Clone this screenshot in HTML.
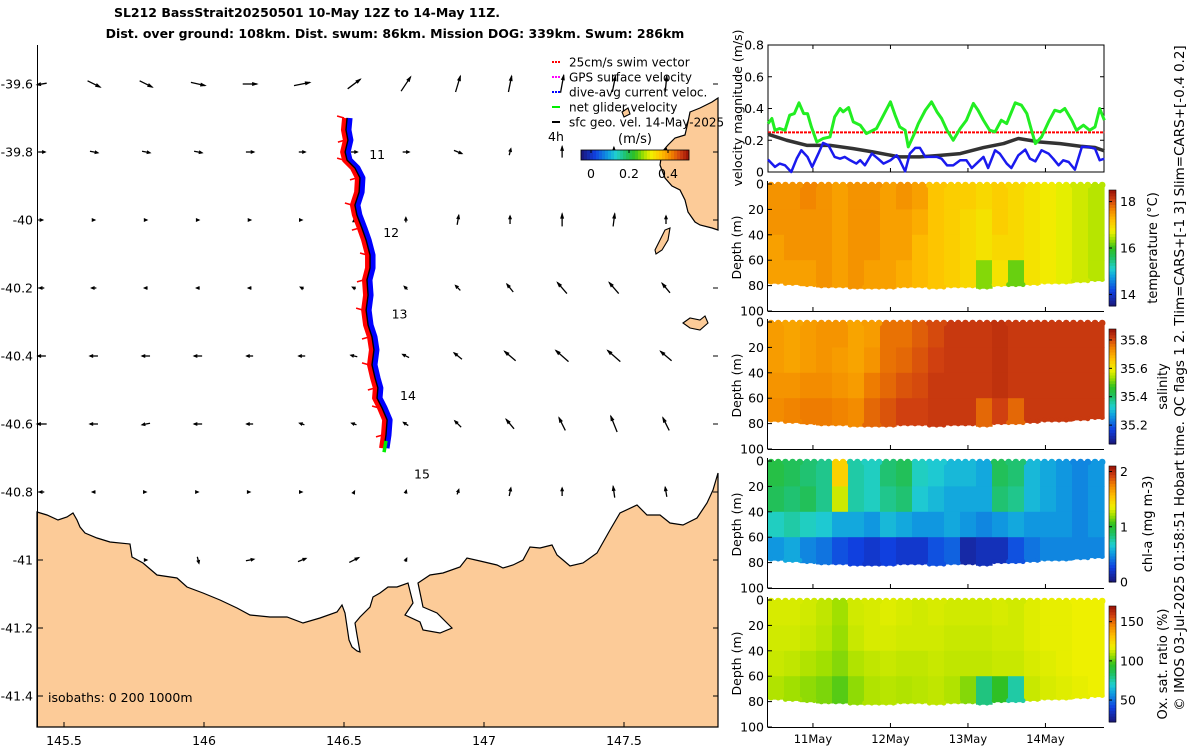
<!DOCTYPE html>
<html><head><meta charset="utf-8"><style>
body{margin:0;background:#fff}
svg{display:block;font-family:"DejaVu Sans","Liberation Sans",sans-serif}
</style></head><body>
<svg id="s" width="1200" height="750" viewBox="0 0 1200 750">
<text x="307" y="17" font-size="12.5" font-weight="bold" text-anchor="middle">SL212 BassStrait20250501 10-May 12Z to 14-May 11Z.</text>
<text x="395" y="38" font-size="12.5" font-weight="bold" text-anchor="middle">Dist. over ground: 108km. Dist. swum: 86km. Mission DOG: 339km. Swum: 286km</text>
<g id="map"></g>
<g id="right"></g>
<text transform="translate(1184,378) rotate(-90)" font-size="13.5" text-anchor="middle">© IMOS 03-Jul-2025 01:58:51 Hobart time. QC flags 1  2. Tlim=CARS+[-1 3] Slim=CARS+[-0.4 0.2]</text>
</svg>
<script>
// ---------- data ----------
const trackLon=[146.511,146.507,146.514,146.504,146.511,146.539,146.557,146.554,146.539,146.546,146.564,146.579,146.593,146.593,146.582,146.586,146.579,146.586,146.600,146.607,146.600,146.611,146.621,146.618,146.636,146.654,146.650,146.643];
const trackLat=[-39.700,-39.735,-39.765,-39.800,-39.824,-39.847,-39.876,-39.918,-39.956,-39.985,-40.024,-40.059,-40.103,-40.141,-40.176,-40.221,-40.265,-40.309,-40.344,-40.382,-40.426,-40.465,-40.494,-40.524,-40.553,-40.588,-40.632,-40.671];
const dayLabels=["11","12","13","14","15"];
const dayLon=[146.59,146.64,146.67,146.70,146.75];
const dayLat=[-39.82,-40.05,-40.29,-40.53,-40.76];
const arrowLon=[145.421,145.607,145.793,145.979,146.164,146.350,146.536,146.721,146.907,147.093,147.279,147.464,147.650];
const arrowLat=[-39.6,-39.8,-40.0,-40.2,-40.4,-40.6,-40.8,-41.0];
const arrowU=[
[-0.06,0.08,0.08,0.09,0.09,0.1,0.08,0.06,0.03,0.02,0.02,0.02,0.01],
[0.04,0.05,0.05,0.05,0.05,0.04,0.04,0.04,0.05,0.01,0.0,0.0,0.0],
[0.01,0.01,0.01,0.01,0.01,0,0,0,0.01,0,0,0.01,0],
[-0.03,-0.03,-0.02,-0.02,-0.02,-0.02,-0.02,-0.02,-0.03,-0.04,-0.06,-0.06,-0.05],
[-0.05,-0.05,-0.05,-0.05,-0.04,-0.04,-0.04,-0.04,-0.05,-0.07,-0.08,-0.08,-0.07],
[-0.06,-0.05,-0.05,-0.05,-0.04,-0.03,-0.03,-0.03,-0.04,-0.05,-0.04,-0.04,-0.04],
[-0.03,-0.02,0,0,0,0,0.005,0.005,0.01,0.01,0,-0.01,-0.01],
[null,null,0.01,0.01,0.05,0.05,0.06,0.01,null,null,null,null,null]];
const arrowV=[
[-0.01,-0.04,-0.04,-0.02,0.0,0.02,0.06,0.09,0.1,0.1,0.11,0.1,0.1],
[0,-0.01,-0.01,-0.01,0,0,0,0,-0.02,0.04,0.07,0.06,0.05],
[0,0,0,0,0,0,0.01,0.03,0.06,0.05,0.08,0.08,0.05],
[0,0,0,0,0,0.01,0.01,0.02,0.03,0.05,0.07,0.07,0.06],
[0,0,0,0,0,0,0.01,0.02,0.04,0.06,0.07,0.07,0.06],
[0,0,-0.01,0,0,0.01,0.01,0.02,0.04,0.06,0.08,0.1,0.08],
[0,0,0,0,0,0,0.01,0.02,0.03,0.05,0.05,0.07,0.06],
[null,null,0,-0.04,0.01,0.02,0.03,0.02,null,null,null,null,null]];
const lonTicks=[145.5,146,146.5,147,147.5];
const lonTickLabels=["145.5","146","146.5","147","147.5"];
const latTicks=[-39.6,-39.8,-40,-40.2,-40.4,-40.6,-40.8,-41,-41.2,-41.4];
const latTickLabels=["-39.6","-39.8","-40","-40.2","-40.4","-40.6","-40.8","-41","-41.2","-41.4"];

const greenT=[10.42,10.47,10.51,10.57,10.64,10.70,10.76,10.82,10.88,10.93,10.98,11.05,11.13,11.22,11.28,11.35,11.39,11.46,11.52,11.61,11.69,11.82,11.91,12.0,12.06,12.12,12.19,12.23,12.30,12.36,12.45,12.53,12.60,12.66,12.73,12.81,12.90,12.98,13.07,13.13,13.20,13.28,13.35,13.43,13.50,13.61,13.69,13.76,13.82,13.87,13.95,14.04,14.12,14.19,14.25,14.34,14.40,14.49,14.57,14.64,14.70,14.76];
const greenV=[.305,.337,.263,.274,.263,.358,.368,.436,.368,.368,.284,.189,.211,.221,.347,.400,.379,.406,.316,.295,.242,.274,.358,.442,.358,.284,.263,.158,.232,.305,.389,.442,.379,.337,.263,.2,.274,.326,.432,.389,.326,.263,.253,.326,.305,.436,.421,.368,.263,.179,.221,.316,.389,.379,.4,.326,.263,.295,.263,.284,.4,.326];
const blueT=[10.42,10.51,10.57,10.64,10.72,10.79,10.85,10.93,10.99,11.07,11.13,11.20,11.28,11.35,11.41,11.48,11.56,11.61,11.67,11.76,11.84,11.91,12.0,12.08,12.12,12.19,12.25,12.32,12.38,12.45,12.53,12.60,12.66,12.73,12.81,12.90,12.98,13.05,13.11,13.20,13.26,13.35,13.41,13.50,13.56,13.65,13.74,13.80,13.87,13.95,14.04,14.10,14.17,14.23,14.30,14.38,14.47,14.55,14.64,14.70,14.76];
const blueV=[.078,.032,.053,.042,0,.084,.137,.095,.032,.116,.183,.168,.095,.084,.095,.074,.053,.074,.042,.116,.084,.053,.074,.105,.074,.004,.116,.152,.152,.095,.095,.095,.084,.042,.042,.074,.074,.025,.053,.095,.025,.137,.116,.053,.025,.105,.141,.084,.067,.137,.116,.084,.042,.074,.063,.015,.158,.158,.147,.074,.084];
const geoT=[10.42,10.66,10.92,11.22,11.52,11.78,12.12,12.38,12.64,12.90,13.20,13.46,13.65,13.93,14.19,14.45,14.64,14.76];
const geoV=[.238,.2,.168,.168,.147,.126,.095,.095,.105,.116,.154,.179,.211,.189,.179,.162,.154,.133];
const swimT=[10.42,14.76];
const swimV=[0.25,0.25];
const velTicks=[0,0.2,0.4,0.6,0.8];
const velTickLabels=["0","0.2","0.4","0.6","0.8"];
const dateTicks=[11,12,13,14];
const dateLabels=["11May","12May","13May","14May"];
const depthTicks=[0,20,40,60,80,100];
const depthEdges=[0,20,40,60];
const bottomDepth=[78,79,80,81,81,82,82,82,81,81,82,81,81,82,80,80,79,78,78,77,76];
const tempGrid=[
[17.6,17.6,17.7,17.6,17.5,17.6,17.6,17.5,17.6,17.5,17.2,17.1,17.1,17.0,17.1,17.0,16.9,16.8,16.7,16.6,16.5],
[17.6,17.6,17.6,17.6,17.5,17.6,17.6,17.5,17.5,17.4,17.2,17.1,17.0,16.9,17.1,17.0,16.9,16.8,16.7,16.6,16.5],
[17.5,17.6,17.6,17.6,17.5,17.6,17.6,17.5,17.5,17.3,17.2,17.1,17.0,16.9,17.0,17.0,16.9,16.8,16.7,16.6,16.5],
[17.5,17.5,17.5,17.6,17.5,17.6,17.5,17.5,17.4,17.3,17.2,17.1,17.0,16.3,16.9,16.2,16.9,16.8,16.7,16.6,16.5]];
const salGrid=[
[35.72,35.71,35.72,35.73,35.73,35.71,35.72,35.77,35.77,35.79,35.81,35.83,35.83,35.83,35.84,35.83,35.83,35.83,35.83,35.83,35.83],
[35.72,35.71,35.72,35.73,35.72,35.71,35.73,35.77,35.78,35.80,35.82,35.83,35.83,35.83,35.84,35.83,35.83,35.83,35.83,35.83,35.83],
[35.73,35.73,35.74,35.74,35.73,35.72,35.76,35.78,35.80,35.81,35.83,35.83,35.83,35.83,35.84,35.83,35.83,35.83,35.83,35.83,35.83],
[35.74,35.75,35.76,35.76,35.75,35.74,35.78,35.80,35.82,35.82,35.83,35.83,35.83,35.78,35.82,35.78,35.83,35.83,35.83,35.83,35.83]];
const chlGrid=[
[0.95,0.9,0.85,0.8,1.5,0.75,0.7,0.85,0.9,0.7,0.65,0.6,0.6,0.55,0.9,0.85,0.6,0.55,0.5,0.45,0.5],
[0.9,0.85,0.9,0.8,1.3,0.75,0.7,0.8,0.85,0.65,0.6,0.55,0.55,0.55,0.85,0.8,0.6,0.55,0.5,0.45,0.5],
[0.7,0.75,0.7,0.65,0.55,0.55,0.5,0.6,0.55,0.5,0.5,0.55,0.5,0.45,0.5,0.55,0.5,0.5,0.5,0.45,0.5],
[0.5,0.55,0.45,0.4,0.3,0.25,0.2,0.25,0.2,0.2,0.3,0.35,0.1,0.15,0.15,0.3,0.4,0.45,0.45,0.45,0.45]];
const oxGrid=[
[115,115,114,112,108,114,115,116,115,114,115,114,114,114,115,114,116,117,117,118,118],
[114,114,113,111,107,113,115,115,114,114,114,113,113,113,114,114,116,117,117,118,118],
[113,112,110,108,105,110,112,113,112,112,113,112,112,112,113,113,115,116,117,118,118],
[110,108,106,104,100,106,110,111,110,111,112,110,105,80,95,75,113,115,116,117,118]];

// ---------- helpers ----------
const NS="http://www.w3.org/2000/svg";
function mk(tag,attrs,parent){const e=document.createElementNS(NS,tag);for(const k in attrs)e.setAttribute(k,attrs[k]);parent.appendChild(e);return e;}
function clamp(x){return Math.max(0,Math.min(1,x));}
const cmap=[[0,[26,26,128]],[0.12,[16,64,224]],[0.25,[16,160,224]],[0.32,[32,208,208]],[0.42,[32,192,96]],[0.5,[48,192,32]],[0.58,[160,224,0]],[0.65,[240,240,0]],[0.75,[255,192,0]],[0.85,[240,128,0]],[0.93,[208,64,16]],[1,[160,24,8]]];
function jet(t){t=clamp(t);for(let i=1;i<cmap.length;i++){if(t<=cmap[i][0]){const a=cmap[i-1],b=cmap[i],f=(t-a[0])/(b[0]-a[0]);
 return `rgb(${Math.round(a[1][0]+(b[1][0]-a[1][0])*f)},${Math.round(a[1][1]+(b[1][1]-a[1][1])*f)},${Math.round(a[1][2]+(b[1][2]-a[1][2])*f)})`;}}return 'rgb(160,24,8)';}
const lonX=l=>204+(l-146)*280;
const latY=a=>220-(a+40)*340;
const map=document.getElementById('map');
const right=document.getElementById('right');

// ---------- map ----------
const coast=[[37,512],[47,515],[58,520],[67,517],[73,513],[77,520],[80,527],[85,533],[97,538],[110,542],[130,544],[132,557],[143,563],[157,575],[177,578],[187,587],[203,593],[220,600],[237,608],[250,615],[270,617],[287,617],[303,623],[320,618],[337,612],[342,605],[345,613],[349,640],[352,647],[357,651],[360,652],[357,635],[355,623],[360,617],[370,607],[373,597],[380,593],[388,587],[397,587],[408,583],[413,603],[405,615],[420,622],[423,630],[440,633],[452,628],[437,613],[423,607],[418,583],[430,575],[443,573],[460,567],[467,558],[480,561],[497,565],[503,568],[513,565],[523,560],[530,547],[540,548],[552,545],[557,555],[563,560],[570,566],[583,563],[597,553],[610,530],[620,513],[637,505],[647,515],[660,515],[670,523],[683,525],[697,518],[707,503],[713,490],[718,473],[718,727],[37,727]];
let p=mk('polygon',{points:coast.map(c=>c.join(',')).join(' '),fill:'#fccb98',stroke:'#000','stroke-width':1.2},map);


const flinders=[[718,98],[712,102],[700,108],[690,112],[688,122],[685,135],[675,138],[668,145],[662,152],[660,165],[665,178],[672,186],[680,190],[685,200],[688,212],[695,222],[700,225],[712,228],[718,230]];
p=mk('polygon',{points:flinders.map(c=>c.join(',')).join(' '),fill:'#fccb98',stroke:'#000','stroke-width':1.2},map);


[[[655,250],[660,240],[665,230],[670,228],[668,240],[662,250],[656,254]],[[683,323],[690,318],[700,320],[705,316],[708,323],[700,330],[690,328]],[[622,112],[628,108],[630,114],[624,117]]].forEach(isl=>{
 const q=mk('polygon',{points:isl.map(c=>c.join(',')).join(' '),fill:'#fccb98',stroke:'#000','stroke-width':1.1},map);
 
 
});
mk('line',{x1:37.5,y1:45,x2:37.5,y2:727,stroke:'#000','stroke-width':1},map);
latTicks.forEach((a,i)=>{const y=latY(a);
 mk('line',{x1:38,y1:y,x2:43,y2:y,stroke:'#000'},map);
 mk('line',{x1:713,y1:y,x2:718,y2:y,stroke:'#000'},map);
 const t=mk('text',{x:33,y:y+4.5,'font-size':12.5,'text-anchor':'end'},map);t.textContent=latTickLabels[i];
 });
lonTicks.forEach((l,i)=>{const x=lonX(l);
 mk('line',{x1:x,y1:722,x2:x,y2:727,stroke:'#000'},map);
 const t=mk('text',{x:x,y:745,'font-size':12.5,'text-anchor':'middle'},map);t.textContent=lonTickLabels[i];
 });
// vector field
const aScale=160;
arrowLat.forEach((a,r)=>arrowLon.forEach((l,c)=>{
 const u=arrowU[r][c],v=arrowV[r][c]; if(u===null||v===null)return;
 const x=lonX(l),y=latY(a),dx=u*aScale,dy=-v*aScale,len=Math.hypot(dx,dy);
 const g=mk('g',{},map);
 
 
 const x0=x-dx/2,y0=y-dy/2,x1=x+dx/2,y1=y+dy/2;
 mk('line',{x1:x0,y1:y0,x2:x1,y2:y1,stroke:'#000','stroke-width':1.3},g);
 const ux=len?dx/len:1,uy=len?dy/len:0,h=Math.min(5,Math.max(3,len*0.4));
 mk('polygon',{points:`${x1+ux*1.5},${y1+uy*1.5} ${x1-ux*h-uy*2},${y1-uy*h+ux*2} ${x1-ux*h+uy*2},${y1-uy*h-ux*2}`,fill:'#000'},g);
}));
// track
const tp=trackLon.map((l,i)=>[lonX(l),latY(trackLat[i])]);
const ptsOff=(dx)=>tp.map(q=>(q[0]+dx)+','+q[1]).join(' ');
let e=mk('polyline',{points:ptsOff(2.5),fill:'none',stroke:'#0000ff','stroke-width':6,'stroke-linejoin':'round'},map);

e=mk('polyline',{points:ptsOff(-2.5),fill:'none',stroke:'#ff0000','stroke-width':5,'stroke-linejoin':'round'},map);

tp.forEach((q,i)=>{if(i%2)return;const s=mk('line',{x1:q[0]-3,y1:q[1],x2:q[0]-10,y2:q[1]+(i%4?2:-2),stroke:'#ff0000','stroke-width':1.6},map);
 });
e=mk('polyline',{points:ptsOff(0),fill:'none',stroke:'#000','stroke-width':1.4},map);

const n=tp.length;
e=mk('line',{x1:tp[n-2][0],y1:tp[n-2][1]+6,x2:tp[n-1][0],y2:tp[n-1][1]+4,stroke:'#00ee00','stroke-width':3.5},map);

dayLabels.forEach((d,i)=>{const t=mk('text',{x:lonX(dayLon[i]),y:latY(dayLat[i]),'font-size':12.5},map);t.textContent=d;
 });
const iso=mk('text',{x:48,y:702,'font-size':12.5},map);iso.textContent='isobaths: 0   200  1000m';

// legend
const leg=[["#ff0000","25cm/s swim vector"],["#ff00ff","GPS surface velocity"],["#0000ff","dive-avg current veloc."],["#00ee00","net glider velocity"],["#000","sfc geo. vel. 14-May-2025"]];
leg.forEach((L,i)=>{const y=62+i*15;const g=mk('g',{},map);
 
 mk('line',{x1:552,y1:y,x2:560,y2:y,stroke:L[0],'stroke-width':2,'stroke-dasharray':i<3?'2,1':''},g);
 const t=mk('text',{x:569,y:y+4.5,'font-size':12},g);t.textContent=L[1];});
let t=mk('text',{x:548,y:141,'font-size':12.5},map);t.textContent='4h';
t=mk('text',{x:635,y:143,'font-size':13,'text-anchor':'middle'},map);t.textContent='(m/s)';
const hcb=mk('g',{},map);
for(let i=0;i<36;i++)mk('rect',{x:581+i*3,y:150,width:3.2,height:10,fill:jet(i/35)},hcb);
mk('rect',{x:581,y:150,width:108,height:10,fill:'none',stroke:'#000','stroke-width':0.8},hcb);
[["0",591],["0.2",629],["0.4",668]].forEach(k=>{mk('line',{x1:k[1],y1:150,x2:k[1],y2:153,stroke:'#000'},hcb);const tt=mk('text',{x:k[1],y:178,'font-size':12.5,'text-anchor':'middle'},hcb);tt.textContent=k[0];});

// ---------- velocity panel ----------
const d0=10.42;
const tX=d=>768+(d-d0)*77.5;
const vY=v=>172-v*158.75;
const vp=mk('g',{},right);
mk('rect',{x:768,y:45,width:336,height:127,fill:'#fff',stroke:'#000','stroke-width':1},vp);
velTicks.forEach((v,i)=>{const y=vY(v);mk('line',{x1:768,y1:y,x2:772,y2:y,stroke:'#000'},vp);mk('line',{x1:1100,y1:y,x2:1104,y2:y,stroke:'#000'},vp);
 const tt=mk('text',{x:764,y:y+4.5,'font-size':12.5,'text-anchor':'end'},vp);tt.textContent=velTickLabels[i];
 });
dateTicks.forEach(d=>{mk('line',{x1:tX(d),y1:172,x2:tX(d),y2:168,stroke:'#000'},vp);mk('line',{x1:tX(d),y1:45,x2:tX(d),y2:49,stroke:'#000'},vp);});
function series(T,V,color,w,name,dash){const s=mk('polyline',{points:T.map((d,i)=>tX(d)+','+vY(V[i])).join(' '),fill:'none',stroke:color,'stroke-width':w,'stroke-linejoin':'round','stroke-dasharray':dash||''},vp);
 }
series(swimT,swimV,'#ff0000',2,'swim-speed-line','3,1');
series(geoT,geoV,'#333',3.5,'geostrophic-speed-line');
series(blueT,blueV,'#1a1aee',2.5,'current-speed-line');
series(greenT,greenV,'#22ee22',3,'glider-speed-line');
t=mk('text',{transform:'translate(742,108) rotate(-90)','font-size':12.5,'text-anchor':'middle'},vp);t.textContent='velocity magnitude (m/s)';


// ---------- heatmap panels ----------
const panels=[
 {top:184,grid:tempGrid,vmin:13.5,vmax:18.5,cb:[190,306],ticks:[14,16,18],tl:["14","16","18"],label:"temperature (°C)",lx:1153,name:'temperature'},
 {top:322,grid:salGrid,vmin:35.067,vmax:35.877,cb:[329,444],ticks:[35.2,35.4,35.6,35.8],tl:["35.2","35.4","35.6","35.8"],label:"salinity",lx:1163,name:'salinity'},
 {top:461,grid:chlGrid,vmin:0,vmax:2.1,cb:[466,582],ticks:[0,1,2],tl:["0","1","2"],label:"chl-a (mg m-3)",lx:1148,name:'chlorophyll'},
 {top:600,grid:oxGrid,vmin:22,vmax:170,cb:[606,722],ticks:[50,100,150],tl:["50","100","150"],label:"Ox. sat. ratio (%)",lx:1163,name:'oxygen'}];
const ncol=21,cw=336/ncol;
panels.forEach((P,pi)=>{
 const g=mk('g',{},right);
 const dY=d=>P.top+d*1.27;
 const col=v=>jet((v-P.vmin)/(P.vmax-P.vmin));
 for(let c=0;c<ncol;c++){
  for(let r=0;r<4;r++){
   const d1=depthEdges[r],d2=r<3?depthEdges[r+1]:bottomDepth[c];
   const rc=mk('rect',{x:768+c*cw,y:dY(d1),width:cw+0.6,height:dY(d2)-dY(d1)+0.6,fill:col(P.grid[r][c])},g);
   
   
  }
 }
 for(let x=771;x<1104;x+=7.2){const c=Math.min(ncol-1,Math.floor((x-768)/cw));
  mk('circle',{cx:x,cy:dY(0)+1,r:3.3,fill:col(P.grid[0][c])},g);
  mk('circle',{cx:x,cy:dY(bottomDepth[c])-1,r:2.5,fill:col(P.grid[3][c])},g);}
 mk('line',{x1:767.5,y1:P.top-3,x2:767.5,y2:dY(100),stroke:'#000'},g);
 mk('line',{x1:767.5,y1:dY(100)+0.5,x2:1104,y2:dY(100)+0.5,stroke:'#000'},g);
 depthTicks.forEach(d=>{mk('line',{x1:768,y1:dY(d),x2:772,y2:dY(d),stroke:'#000'},g);
  const tt=mk('text',{x:764,y:dY(d)+4.5,'font-size':12.5,'text-anchor':'end'},g);tt.textContent=String(d);
  });
 dateTicks.forEach(d=>mk('line',{x1:tX(d),y1:dY(100),x2:tX(d),y2:dY(100)-4,stroke:'#000'},g));
 const yt=mk('text',{transform:`translate(741,${dY(50)}) rotate(-90)`,'font-size':12.5,'text-anchor':'middle'},g);yt.textContent='Depth (m)';
 
 const cb=mk('g',{},g);
 const h=P.cb[1]-P.cb[0];
 for(let i=0;i<40;i++)mk('rect',{x:1109,y:P.cb[1]-(i+1)*h/40,width:7,height:h/40+0.5,fill:jet(i/39)},cb);
 mk('rect',{x:1109,y:P.cb[0],width:7,height:h,fill:'none',stroke:'#000','stroke-width':0.6},cb);
 P.ticks.forEach((v,i)=>{const y=P.cb[1]-(v-P.vmin)/(P.vmax-P.vmin)*h;
  mk('line',{x1:1109,y1:y,x2:1112,y2:y,stroke:'#000'},cb);
  const tt=mk('text',{x:1120,y:y+4.5,'font-size':12.5},cb);tt.textContent=P.tl[i];});
 const lt=mk('text',{transform:`translate(${P.lx+4},${(P.cb[0]+P.cb[1])/2}) rotate(-90)`,'font-size':13,'text-anchor':'middle'},g);lt.textContent=P.label;
 
});
dateTicks.forEach((d,i)=>{const tt=mk('text',{x:tX(d),y:743,'font-size':11.5,'text-anchor':'middle'},right);tt.textContent=dateLabels[i];
 });
</script>
</body></html>
